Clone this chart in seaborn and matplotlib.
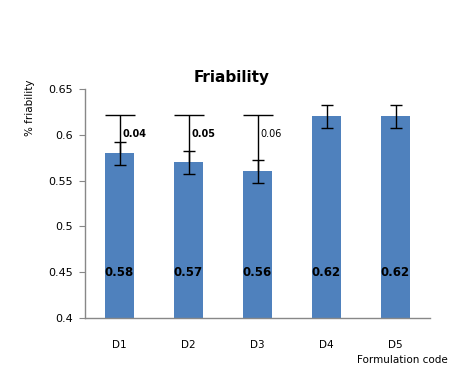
import numpy as np
import pandas as pd
import seaborn as sns
import matplotlib.pyplot as plt

# data
codes = ['D1', 'D2', 'D3', 'D4', 'D5']
friability = [0.58, 0.57, 0.56, 0.62, 0.62]
sd = [0.0125, 0.0125, 0.0125, 0.0125, 0.0125]
diff = [0.042, 0.052, 0.062]          # extra upward bars on D1-D3
diff_labels = ['0.04', '0.05', '0.06']

df = pd.DataFrame({'code': codes, 'friability': friability})

sns.set_style('white')
plt.rcParams['font.family'] = ['DejaVu Sans']
plt.rcParams['text.color'] = 'black'
plt.rcParams['xtick.color'] = 'black'
plt.rcParams['ytick.color'] = 'black'

fig = plt.figure(figsize=(4.76, 3.89), dpi=100)
ax = fig.add_axes([0.1786, 0.1825, 0.7248, 0.5887])

sns.barplot(data=df, x='code', y='friability', color='#4F81BD', saturation=1,
            width=0.41, ax=ax, errorbar=None, linewidth=0, edgecolor='none')

xs = np.arange(len(codes))
ax.errorbar(xs, friability, yerr=sd, fmt='none', ecolor='black',
            elinewidth=1, capsize=4, capthick=1)

# upward-only bars, cap only at the top
tops = np.array(friability[:3]) + np.array(diff)
ax.errorbar(xs[:3], friability[:3], yerr=[np.zeros(3), diff], fmt='none',
            ecolor='black', elinewidth=1, capsize=0)
ax.plot(xs[:3], tops, ls='none', marker='_', markersize=21,
        markeredgewidth=1, color='black')

for i, lab in enumerate(diff_labels):
    ax.text(xs[i] + 0.04, tops[i] - 0.021, lab, fontsize=7,
            fontweight='bold' if i < 2 else 'normal', va='center', ha='left')

for i, v in enumerate(friability):
    ax.text(xs[i], 0.45, f'{v:.2f}', ha='center', va='center',
            fontsize=8.5, fontweight='bold')

ax.set_ylim(0.4, 0.65)
ax.set_xlim(-0.5, 4.5)
ax.set_yticks([0.4, 0.45, 0.5, 0.55, 0.6, 0.65])
ax.set_yticklabels(['0.4', '0.45', '0.5', '0.55', '0.6', '0.65'])
ax.set_xticks(xs)
ax.set_xticklabels(codes)
ax.set_xticks(np.arange(-0.5, 5, 1), minor=True)
ax.tick_params(axis='x', which='major', length=0, pad=16, labelsize=7.5)
ax.tick_params(axis='x', which='minor', length=4, color='#888888', direction='out')
ax.tick_params(axis='y', length=4, color='#888888', direction='out', pad=5,
               labelsize=8, left=True)

for s in ['top', 'right']:
    ax.spines[s].set_visible(False)
for s in ['left', 'bottom']:
    ax.spines[s].set_color('#888888')
    ax.spines[s].set_linewidth(1)

ax.set_xlabel('')
ax.set_ylabel('')
fig.text(0.487, 0.802, 'Friability', ha='center', va='center',
         fontsize=11, fontweight='bold')
fig.text(0.063, 0.722, '% friability', rotation=90, ha='center', va='center',
         fontsize=7.5)
fig.text(0.94, 0.075, 'Formulation code', ha='right', va='center', fontsize=7.5)

fig.savefig('out.png', dpi=100)
